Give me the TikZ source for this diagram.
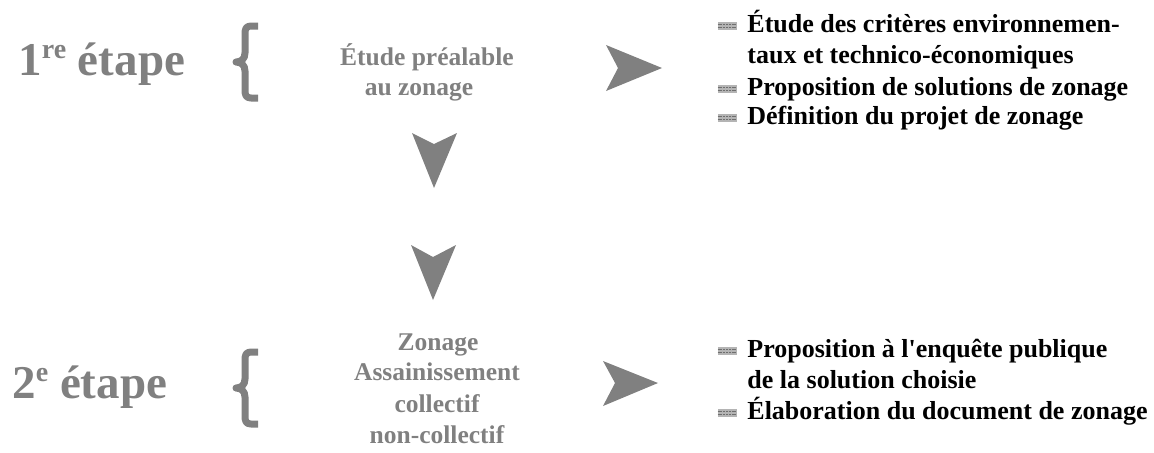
\documentclass[tikz,border=0pt]{standalone}
\usepackage{fontspec}
\setmainfont{Liberation Serif}
\definecolor{stepgray}{HTML}{808080}
\definecolor{bulfill}{HTML}{B4B4B4}
\definecolor{bulline}{HTML}{6E6E6E}
\newcommand{\stepsup}[1]{\raisebox{8.5pt}{\fontsize{14}{14}\selectfont #1}}
\begin{document}
\begin{tikzpicture}[x=0.5pt,y=-0.5pt,
  steptitle/.style={font=\fontsize{23.5}{28}\selectfont\bfseries, text=stepgray, inner sep=0pt, anchor=base west},
  graytxt/.style={font=\fontsize{12.75}{15}\selectfont\bfseries, text=stepgray, inner sep=0pt, anchor=base},
  itemtxt/.style={font=\fontsize{13}{15}\selectfont\bfseries, text=black, inner sep=0pt, anchor=base west},
  arrowshape/.style={fill=stepgray, draw=none},
  bulletbox/.style={fill=bulfill, draw=none, inner sep=0pt, minimum width=9.5pt, minimum height=3.6pt,
    anchor=south east, xshift=-5pt, yshift=1pt,
    path picture={
      \draw[bulline, line width=0.35pt, dash pattern=on 1pt off 0.4pt]
        ([yshift=-1.1pt]path picture bounding box.north west) -- ([yshift=-1.1pt]path picture bounding box.north east);
      \draw[bulline, line width=0.35pt, dash pattern=on 1pt off 0.4pt]
        ([yshift=1.1pt]path picture bounding box.south west) -- ([yshift=1.1pt]path picture bounding box.south east);
    }},
  bracestroke/.style={draw=stepgray, line width=3.5pt, line cap=butt, line join=round},
  bracepic/.pic={
    \draw[bracestroke] (13,-36) -- (6,-36) .. controls (1,-36) and (0,-33) .. (0,-28) -- (0,-9)
      .. controls (0,-3) and (-4,0) .. (-9,0) .. controls (-4,0) and (0,3) .. (0,9) -- (0,28)
      .. controls (0,33) and (1,36) .. (6,36) -- (13,36);
  }]
\useasboundingbox (0,0) rectangle (1154,452);

% step titles
\node[steptitle] (t1) at (18,75) {1\stepsup{re} étape};
\node[steptitle] (t2) at (12,398) {2\stepsup{e} étape};

% braces
\pic at (245,62) {bracepic};
\pic at (245,388) {bracepic};

% gray center texts
\node[graytxt] (s1a) at (427,65) {Étude préalable};
\node[graytxt] (s1b) at (419,95) {au zonage};
\node[graytxt] (s2a) at (438,350) {Zonage};
\node[graytxt] (s2b) at (437,380) {Assainissement};
\node[graytxt] (s2c) at (437,412) {collectif};
\node[graytxt] (s2d) at (437,443) {non-collectif};

% arrows
\path[arrowshape] (606,45) -- (662,68) -- (606,91) -- (618,68) -- cycle;
\path[arrowshape] (603,361) -- (658,383) -- (603,406) -- (615,383) -- cycle;
\path[arrowshape] (412,133) -- (434,144) -- (457,133) -- (434,188) -- cycle;
\path[arrowshape] (411,245) -- (433,257) -- (456,245) -- (433,300) -- cycle;

% bullet items, step 1
\node[itemtxt] (i1) at (747,32) {Étude des critères environnemen-};
\node[itemtxt] (i1b) at (747,63) {taux et technico-économiques};
\node[itemtxt] (i2) at (747,95) {Proposition de solutions de zonage};
\node[itemtxt] (i3) at (747,124) {Définition du projet de zonage};
\node[bulletbox] (b1) at (i1.base west) {};
\node[bulletbox] (b2) at (i2.base west) {};
\node[bulletbox] (b3) at (i3.base west) {};

% bullet items, step 2
\node[itemtxt] (i4) at (747,357) {Proposition à l\textquotesingle enquête publique};
\node[itemtxt] (i4b) at (747,388) {de la solution choisie};
\node[itemtxt] (i5) at (747,419) {Élaboration du document de zonage};
\node[bulletbox] (b4) at (i4.base west) {};
\node[bulletbox] (b5) at (i5.base west) {};
\end{tikzpicture}
\end{document}
